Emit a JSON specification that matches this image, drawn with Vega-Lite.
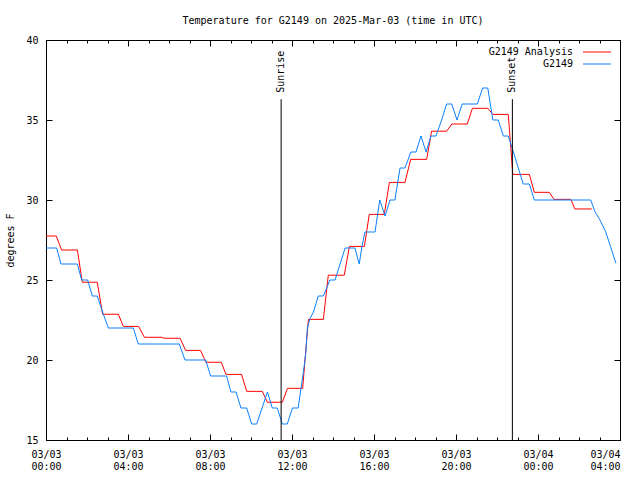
{
  "$schema": "https://vega.github.io/schema/vega-lite/v6.json",
  "width": 574,
  "height": 400,
  "autosize": {"type": "none"},
  "padding": {"left": 46, "top": 40, "right": 20, "bottom": 40},
  "background": "white",
  "title": {"text": "Temperature for G2149 on 2025-Mar-03 (time in UTC)", "font": "DejaVu Sans Mono", "fontSize": 10, "fontWeight": "normal", "color": "black", "anchor": "middle", "baseline": "bottom", "offset": -1, "frame": "group"},
  "config": {
    "view": {"stroke": "black", "strokeWidth": 1},
    "axis": {"grid": false, "domainColor": "black", "tickColor": "black", "labelColor": "black", "labelFont": "DejaVu Sans Mono", "labelFontSize": 10, "titleFont": "DejaVu Sans Mono", "titleFontSize": 10, "titleFontWeight": "normal", "titleColor": "black"}
  },
  "datasets": {
    "temps": [
      {"s": "G2149 Analysis", "h": 0, "t": 27.75},
      {"s": "G2149 Analysis", "h": 0.5, "t": 27.75},
      {"s": "G2149 Analysis", "h": 0.76, "t": 26.875},
      {"s": "G2149 Analysis", "h": 1.53, "t": 26.875},
      {"s": "G2149 Analysis", "h": 1.77, "t": 24.86},
      {"s": "G2149 Analysis", "h": 2.5, "t": 24.86},
      {"s": "G2149 Analysis", "h": 2.76, "t": 22.86},
      {"s": "G2149 Analysis", "h": 3.53, "t": 22.86},
      {"s": "G2149 Analysis", "h": 3.77, "t": 22.1},
      {"s": "G2149 Analysis", "h": 4.52, "t": 22.1},
      {"s": "G2149 Analysis", "h": 4.8, "t": 21.42},
      {"s": "G2149 Analysis", "h": 5.66, "t": 21.42},
      {"s": "G2149 Analysis", "h": 5.75, "t": 21.36},
      {"s": "G2149 Analysis", "h": 6.54, "t": 21.36},
      {"s": "G2149 Analysis", "h": 6.81, "t": 20.6},
      {"s": "G2149 Analysis", "h": 7.54, "t": 20.6},
      {"s": "G2149 Analysis", "h": 7.8, "t": 19.86},
      {"s": "G2149 Analysis", "h": 8.55, "t": 19.86},
      {"s": "G2149 Analysis", "h": 8.78, "t": 19.1},
      {"s": "G2149 Analysis", "h": 9.54, "t": 19.1},
      {"s": "G2149 Analysis", "h": 9.79, "t": 18.04},
      {"s": "G2149 Analysis", "h": 10.55, "t": 18.04},
      {"s": "G2149 Analysis", "h": 10.8, "t": 17.36},
      {"s": "G2149 Analysis", "h": 11.53, "t": 17.36},
      {"s": "G2149 Analysis", "h": 11.78, "t": 18.23},
      {"s": "G2149 Analysis", "h": 12.52, "t": 18.23},
      {"s": "G2149 Analysis", "h": 12.8, "t": 22.54},
      {"s": "G2149 Analysis", "h": 13.53, "t": 22.54},
      {"s": "G2149 Analysis", "h": 13.77, "t": 25.3},
      {"s": "G2149 Analysis", "h": 14.55, "t": 25.3},
      {"s": "G2149 Analysis", "h": 14.8, "t": 27.1},
      {"s": "G2149 Analysis", "h": 15.53, "t": 27.1},
      {"s": "G2149 Analysis", "h": 15.77, "t": 29.1},
      {"s": "G2149 Analysis", "h": 16.5, "t": 29.1},
      {"s": "G2149 Analysis", "h": 16.75, "t": 31.1},
      {"s": "G2149 Analysis", "h": 17.51, "t": 31.1},
      {"s": "G2149 Analysis", "h": 17.79, "t": 32.54},
      {"s": "G2149 Analysis", "h": 18.57, "t": 32.54},
      {"s": "G2149 Analysis", "h": 18.81, "t": 34.3},
      {"s": "G2149 Analysis", "h": 19.54, "t": 34.3},
      {"s": "G2149 Analysis", "h": 19.8, "t": 34.75},
      {"s": "G2149 Analysis", "h": 20.55, "t": 34.75},
      {"s": "G2149 Analysis", "h": 20.8, "t": 35.73},
      {"s": "G2149 Analysis", "h": 21.55, "t": 35.73},
      {"s": "G2149 Analysis", "h": 21.8, "t": 35.35},
      {"s": "G2149 Analysis", "h": 22.55, "t": 35.35},
      {"s": "G2149 Analysis", "h": 22.77, "t": 31.6},
      {"s": "G2149 Analysis", "h": 23.58, "t": 31.6},
      {"s": "G2149 Analysis", "h": 23.82, "t": 30.48},
      {"s": "G2149 Analysis", "h": 24.55, "t": 30.48},
      {"s": "G2149 Analysis", "h": 24.78, "t": 30.04},
      {"s": "G2149 Analysis", "h": 25.6, "t": 30.04},
      {"s": "G2149 Analysis", "h": 25.8, "t": 29.44},
      {"s": "G2149 Analysis", "h": 26.62, "t": 29.44},
      {"s": "G2149", "h": 0, "t": 27},
      {"s": "G2149", "h": 0.52, "t": 27},
      {"s": "G2149", "h": 0.73, "t": 26},
      {"s": "G2149", "h": 1.53, "t": 26},
      {"s": "G2149", "h": 1.74, "t": 25},
      {"s": "G2149", "h": 2.03, "t": 25},
      {"s": "G2149", "h": 2.26, "t": 24},
      {"s": "G2149", "h": 2.5, "t": 24},
      {"s": "G2149", "h": 2.76, "t": 23},
      {"s": "G2149", "h": 3.04, "t": 22},
      {"s": "G2149", "h": 4.26, "t": 22},
      {"s": "G2149", "h": 4.5, "t": 21},
      {"s": "G2149", "h": 6.5, "t": 21},
      {"s": "G2149", "h": 6.78, "t": 20},
      {"s": "G2149", "h": 7.79, "t": 20},
      {"s": "G2149", "h": 8.03, "t": 19},
      {"s": "G2149", "h": 8.81, "t": 19},
      {"s": "G2149", "h": 9.02, "t": 18},
      {"s": "G2149", "h": 9.27, "t": 18},
      {"s": "G2149", "h": 9.51, "t": 17},
      {"s": "G2149", "h": 9.79, "t": 17},
      {"s": "G2149", "h": 10.03, "t": 16},
      {"s": "G2149", "h": 10.28, "t": 16},
      {"s": "G2149", "h": 10.54, "t": 17},
      {"s": "G2149", "h": 10.8, "t": 18},
      {"s": "G2149", "h": 11.04, "t": 17},
      {"s": "G2149", "h": 11.28, "t": 17},
      {"s": "G2149", "h": 11.53, "t": 16},
      {"s": "G2149", "h": 11.77, "t": 16},
      {"s": "G2149", "h": 12.02, "t": 17},
      {"s": "G2149", "h": 12.3, "t": 17},
      {"s": "G2149", "h": 12.55, "t": 19.2},
      {"s": "G2149", "h": 12.67, "t": 20.4},
      {"s": "G2149", "h": 12.75, "t": 22},
      {"s": "G2149", "h": 12.88, "t": 22.6},
      {"s": "G2149", "h": 13.05, "t": 23},
      {"s": "G2149", "h": 13.28, "t": 24},
      {"s": "G2149", "h": 13.53, "t": 24},
      {"s": "G2149", "h": 13.85, "t": 25},
      {"s": "G2149", "h": 14.1, "t": 25},
      {"s": "G2149", "h": 14.59, "t": 27},
      {"s": "G2149", "h": 15.07, "t": 27},
      {"s": "G2149", "h": 15.28, "t": 26},
      {"s": "G2149", "h": 15.4, "t": 27},
      {"s": "G2149", "h": 15.56, "t": 28},
      {"s": "G2149", "h": 16.05, "t": 28},
      {"s": "G2149", "h": 16.28, "t": 30},
      {"s": "G2149", "h": 16.54, "t": 29},
      {"s": "G2149", "h": 16.78, "t": 30},
      {"s": "G2149", "h": 17.02, "t": 30},
      {"s": "G2149", "h": 17.27, "t": 32},
      {"s": "G2149", "h": 17.51, "t": 32},
      {"s": "G2149", "h": 17.8, "t": 33},
      {"s": "G2149", "h": 18.05, "t": 33},
      {"s": "G2149", "h": 18.29, "t": 34},
      {"s": "G2149", "h": 18.54, "t": 33},
      {"s": "G2149", "h": 18.78, "t": 34},
      {"s": "G2149", "h": 19.02, "t": 34},
      {"s": "G2149", "h": 19.3, "t": 35},
      {"s": "G2149", "h": 19.54, "t": 36},
      {"s": "G2149", "h": 19.79, "t": 36},
      {"s": "G2149", "h": 20.05, "t": 35},
      {"s": "G2149", "h": 20.3, "t": 36},
      {"s": "G2149", "h": 21.04, "t": 36},
      {"s": "G2149", "h": 21.3, "t": 37},
      {"s": "G2149", "h": 21.55, "t": 37},
      {"s": "G2149", "h": 21.8, "t": 35},
      {"s": "G2149", "h": 22.06, "t": 35},
      {"s": "G2149", "h": 22.31, "t": 34},
      {"s": "G2149", "h": 22.55, "t": 34},
      {"s": "G2149", "h": 22.8, "t": 33},
      {"s": "G2149", "h": 23.04, "t": 32},
      {"s": "G2149", "h": 23.28, "t": 31},
      {"s": "G2149", "h": 23.58, "t": 31},
      {"s": "G2149", "h": 23.82, "t": 30},
      {"s": "G2149", "h": 26.57, "t": 30},
      {"s": "G2149", "h": 26.78, "t": 29.27},
      {"s": "G2149", "h": 27.02, "t": 28.75},
      {"s": "G2149", "h": 27.3, "t": 28.02},
      {"s": "G2149", "h": 27.54, "t": 27.08},
      {"s": "G2149", "h": 27.8, "t": 26.04}
    ],
    "sun": [
      {"event": "Sunrise", "h": 11.47},
      {"event": "Sunset", "h": 22.75}
    ]
  },
  "layer": [
    {
      "data": {"name": "temps"},
      "mark": {"type": "line", "strokeWidth": 1},
      "encoding": {
        "x": {
          "field": "h", "type": "quantitative",
          "scale": {"domain": [0, 28], "nice": false, "zero": false},
          "axis": {
            "orient": "bottom", "title": null,
            "values": [0,1,2,3,4,5,6,7,8,9,10,11,12,13,14,15,16,17,18,19,20,21,22,23,24,25,26,27,28],
            "labelExpr": "datum.value % 4 === 0 ? [(datum.value < 24 ? '03/03' : '03/04'), ((datum.value % 24) < 10 ? '0' : '') + (datum.value % 24) + ':00'] : ''",
            "labelOverlap": false, "labelFlush": false,
            "labelAlign": {"condition": {"test": "datum.value === 28", "value": "right"}, "value": "center"},
            "labelLineHeight": 12,
            "labelPadding": 15,
            "tickSize": {"condition": {"test": "datum.value % 4 === 0", "value": -6}, "value": -3}
          }
        },
        "y": {
          "field": "t", "type": "quantitative",
          "scale": {"domain": [15, 40], "nice": false, "zero": false},
          "axis": {"orient": "left", "values": [15,20,25,30,35,40], "title": "degrees F", "tickSize": -6, "labelPadding": 14, "titlePadding": 10}
        },
        "color": {
          "field": "s", "type": "nominal",
          "scale": {"domain": ["G2149 Analysis", "G2149"], "range": ["#ff0000", "#0a80ff"]},
          "legend": {"orient": "none", "legendX": 546, "legendY": 7, "title": null, "symbolType": "M-4,0H4", "symbolSize": 49, "symbolStrokeWidth": 1, "labelAlign": "right", "labelOffset": -29, "labelFont": "DejaVu Sans Mono", "labelFontSize": 10, "labelColor": "black", "padding": 0, "rowPadding": 2, "symbolOffset": 0}
        }
      }
    },
    {
      "data": {"name": "sun"},
      "mark": {"type": "rule", "color": "black", "strokeWidth": 1},
      "encoding": {
        "x": {
          "field": "h", "type": "quantitative",
          "axis": {
            "orient": "top", "title": null, "labels": false,
            "values": [0,1,2,3,4,5,6,7,8,9,10,11,12,13,14,15,16,17,18,19,20,21,22,23,24,25,26,27,28],
            "tickSize": {"condition": {"test": "datum.value % 4 === 0", "value": -6}, "value": -3}
          }
        },
        "y": {"datum": 15, "axis": {"orient": "right", "title": null, "labels": false, "values": [15,20,25,30,35,40], "tickSize": -6}},
        "y2": {"datum": 36.3}
      }
    },
    {
      "data": {"name": "sun"},
      "mark": {"type": "text", "angle": 270, "align": "left", "baseline": "middle", "font": "DejaVu Sans Mono", "fontSize": 10, "color": "black"},
      "encoding": {
        "x": {"field": "h", "type": "quantitative", "axis": null},
        "y": {"datum": 36.7, "axis": null},
        "text": {"field": "event"}
      }
    }
  ],
  "resolve": {"axis": {"x": "independent", "y": "independent"}}
}
